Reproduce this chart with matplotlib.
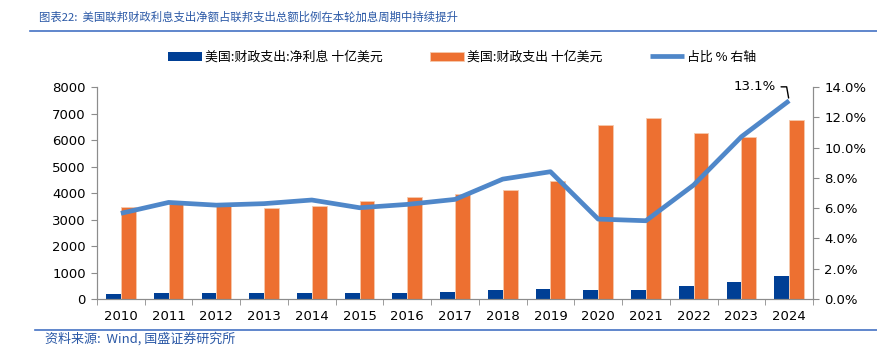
import matplotlib.pyplot as plt
import numpy as np

plt.rcParams['font.family'] = ['DejaVu Sans', 'Noto Sans CJK SC']

years = [str(y) for y in range(2010, 2025)]
net_interest = [196, 230, 220, 221, 229, 223, 240, 263, 325, 375, 345, 352, 475, 659, 882]
outlays = [3457, 3603, 3537, 3454, 3506, 3688, 3853, 3982, 4109, 4447, 6552, 6822, 6273, 6134, 6752]
share = [5.66, 6.38, 6.20, 6.30, 6.54, 6.03, 6.25, 6.58, 7.92, 8.41, 5.28, 5.17, 7.53, 10.72, 13.1]

c_blue = '#003f95'
c_orange = '#ed7031'
c_line = '#4f87c9'
c_title = '#2a58a6'
c_spine = '#8c8c8c'
cjk = ['Noto Sans CJK SC', 'DejaVu Sans']

fig = plt.figure(figsize=(8.77, 3.57), dpi=100)
ax = fig.add_axes([0.1106, 0.1625, 0.8164, 0.5935])
ax2 = ax.twinx()

x = np.arange(len(years))
w = 0.31
ax.bar(x - w / 2, net_interest, w, color=c_blue, label='美国:财政支出:净利息 十亿美元', zorder=2)
ax.bar(x + w / 2, outlays, w, color=c_orange, edgecolor='#f6c9ad', linewidth=0.6,
       label='美国:财政支出 十亿美元', zorder=2)
ax2.plot(x, share, color=c_line, lw=3.4, solid_capstyle='butt', label='占比 % 右轴', zorder=3)

ax.set_xlim(-0.5, len(years) - 0.5)
ax.set_ylim(0, 8000)
ax.set_yticks(range(0, 8001, 1000))
ax2.set_ylim(0, 14)
ax2.set_yticks(np.arange(0, 14.1, 2))
ax2.set_yticklabels([f'{v:.1f}%' for v in np.arange(0, 14.1, 2)])

ax.set_xticks(x)
ax.set_xticklabels(years)
ax.set_xticks(np.arange(-0.5, len(years), 1), minor=True)
ax.tick_params(axis='x', which='major', length=0, pad=8, labelsize=9.5)
ax.tick_params(axis='x', which='minor', length=4, color=c_spine, direction='out')
ax.tick_params(axis='y', length=4, color=c_spine, labelsize=9.5, pad=4)
ax2.tick_params(axis='y', length=4, color=c_spine, labelsize=9.5, pad=4)

for a in (ax, ax2):
    a.spines['top'].set_visible(False)
    for s in ('left', 'right', 'bottom'):
        a.spines[s].set_color(c_spine)
        a.spines[s].set_linewidth(0.8)

ax2.annotate('13.1%', xy=(x[-1], share[-1]), xytext=(-25, 10), textcoords='offset points',
             ha='center', va='center', fontsize=9.5,
             arrowprops=dict(arrowstyle='-', color='black', lw=1.0, shrinkA=2, shrinkB=2,
                             connectionstyle='angle,angleA=0,angleB=100,rad=0'))

h1, l1 = ax.get_legend_handles_labels()
h2, l2 = ax2.get_legend_handles_labels()
fig.legend(h1 + h2, l1 + l2, loc='center', bbox_to_anchor=(0.527, 0.839), ncol=3, frameon=False,
           prop={'family': cjk, 'size': 9.3},
           handlelength=2.6, handleheight=0.8, columnspacing=3.7, handletextpad=0.25)

fig.text(0.044, 0.953, '图表22:  美国联邦财政利息支出净额占联邦支出总额比例在本轮加息周期中持续提升',
         color=c_title, fontsize=8.2, style='italic', va='center', family=cjk)
fig.add_artist(plt.Line2D([0.034, 1.0], [0.913, 0.913], color='#4472c4', lw=1.2))
fig.add_artist(plt.Line2D([0.04, 1.0], [0.0756, 0.0756], color='#4472c4', lw=1.2))
fig.text(0.051, 0.05, '资料来源:  Wind, 国盛证券研究所', color=c_title, fontsize=9.4,
         style='italic', va='center', family=cjk)

fig.savefig('out.png', dpi=100)
